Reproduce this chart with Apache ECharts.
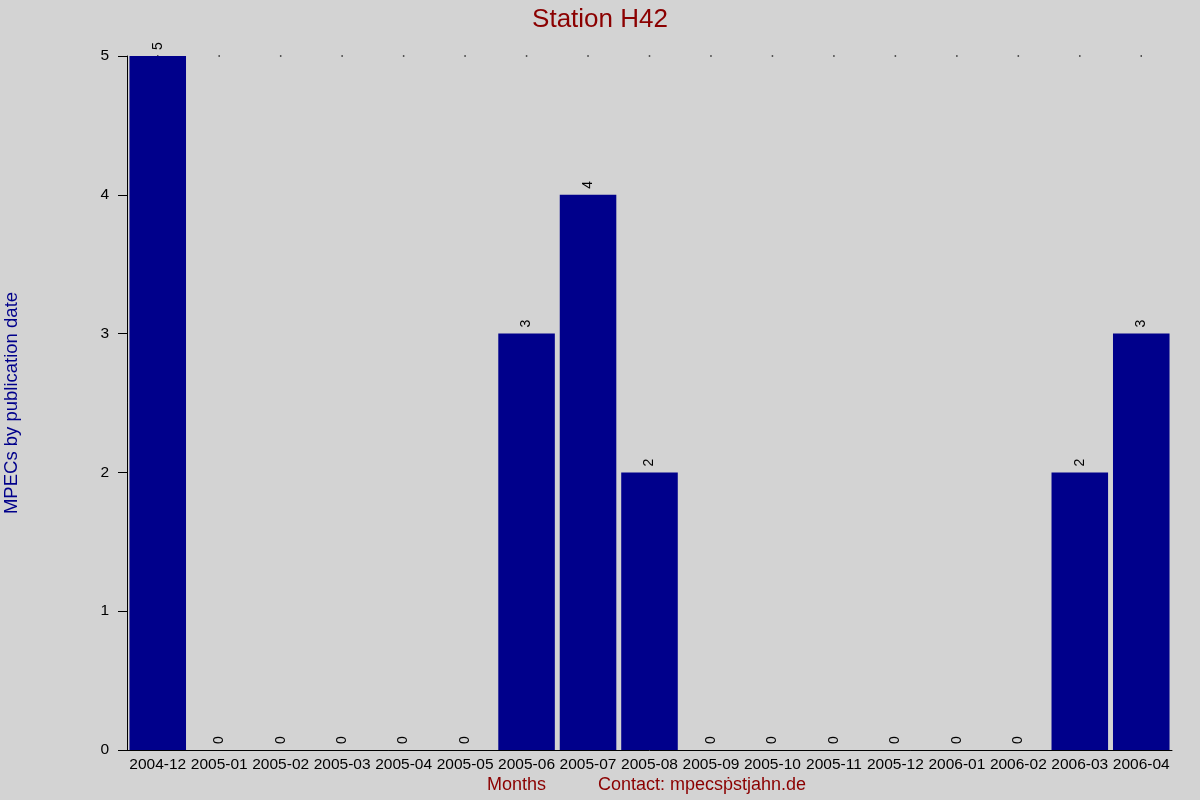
<!DOCTYPE html>
<html>
<head>
<meta charset="utf-8">
<script src="https://cdn.jsdelivr.net/npm/echarts@6/dist/echarts.min.js"></script>
<style>
  html, body { margin: 0; padding: 0; background: #d3d3d3; }
  #chart { width: 1200px; height: 800px; }
</style>
</head>
<body>
<div id="chart"></div>
<script>
// months on the x axis
const months = [
    '2004-12', '2005-01', '2005-02', '2005-03', '2005-04', '2005-05',
    '2005-06', '2005-07', '2005-08', '2005-09', '2005-10', '2005-11',
    '2005-12', '2006-01', '2006-02', '2006-03', '2006-04'
]
// MPECs per month
const mpecCounts = [5, 0, 0, 0, 0, 0, 3, 4, 2, 0, 0, 0, 0, 0, 0, 2, 3]
// little dots along the top of the plot
const topDots = months.map(() => 5)

const font = 'Liberation Sans, Arial, sans-serif'
const chart = echarts.init(document.getElementById('chart'))

chart.setOption({
    backgroundColor: '#d3d3d3',
    animation: false,
    title: {
        text: 'Station H42',
        left: 'center',
        top: 2,
        textStyle: { color: '#8b0000', fontSize: 26, fontWeight: 'normal', fontFamily: font }
    },
    grid: { left: 127, right: 28, top: 56, bottom: 50, containLabel: false, outerBoundsMode: 'none' },
    xAxis: {
        type: 'category',
        data: months,
        axisLine: { lineStyle: { color: '#000', width: 1 } },
        axisTick: { show: false },
        axisLabel: { color: '#000', fontSize: 15.5, fontFamily: font, margin: 7, interval: 0 }
    },
    yAxis: {
        type: 'value',
        min: 0,
        max: 5,
        interval: 1,
        name: 'MPECs by publication date',
        nameLocation: 'middle',
        nameGap: 106,
        nameTextStyle: { color: '#00008b', fontSize: 18.5, fontFamily: font },
        splitLine: { show: false },
        axisLine: { show: true, lineStyle: { color: '#000', width: 1 } },
        axisTick: { show: true, length: 9, lineStyle: { color: '#000' } },
        axisLabel: { color: '#000', fontSize: 15.5, fontFamily: font, margin: 18 }
    },
    graphic: [
        {
            type: 'text', left: 487, top: 776,
            style: { text: 'Months', fill: '#8b0000', fontSize: 18, fontFamily: font }
        },
        {
            type: 'text', left: 598, top: 776,
            style: { text: 'Contact: mpecsṗstjahn.de', fill: '#8b0000', fontSize: 18, fontFamily: font }
        }
    ],
    series: [
        {
            type: 'scatter',
            data: topDots,
            symbol: 'rect',
            symbolSize: 1.5,
            itemStyle: { color: '#000' },
            silent: true,
            z: 1
        },
        {
            type: 'bar',
            data: mpecCounts,
            barCategoryGap: '8%',
            itemStyle: { color: '#00008b' },
            z: 2,
            label: {
                show: true,
                position: 'top',
                rotate: 90,
                align: 'left',
                verticalAlign: 'middle',
                distance: 6,
                color: '#000',
                fontSize: 14,
                fontFamily: font
            }
        }
    ]
})
</script>
</body>
</html>
